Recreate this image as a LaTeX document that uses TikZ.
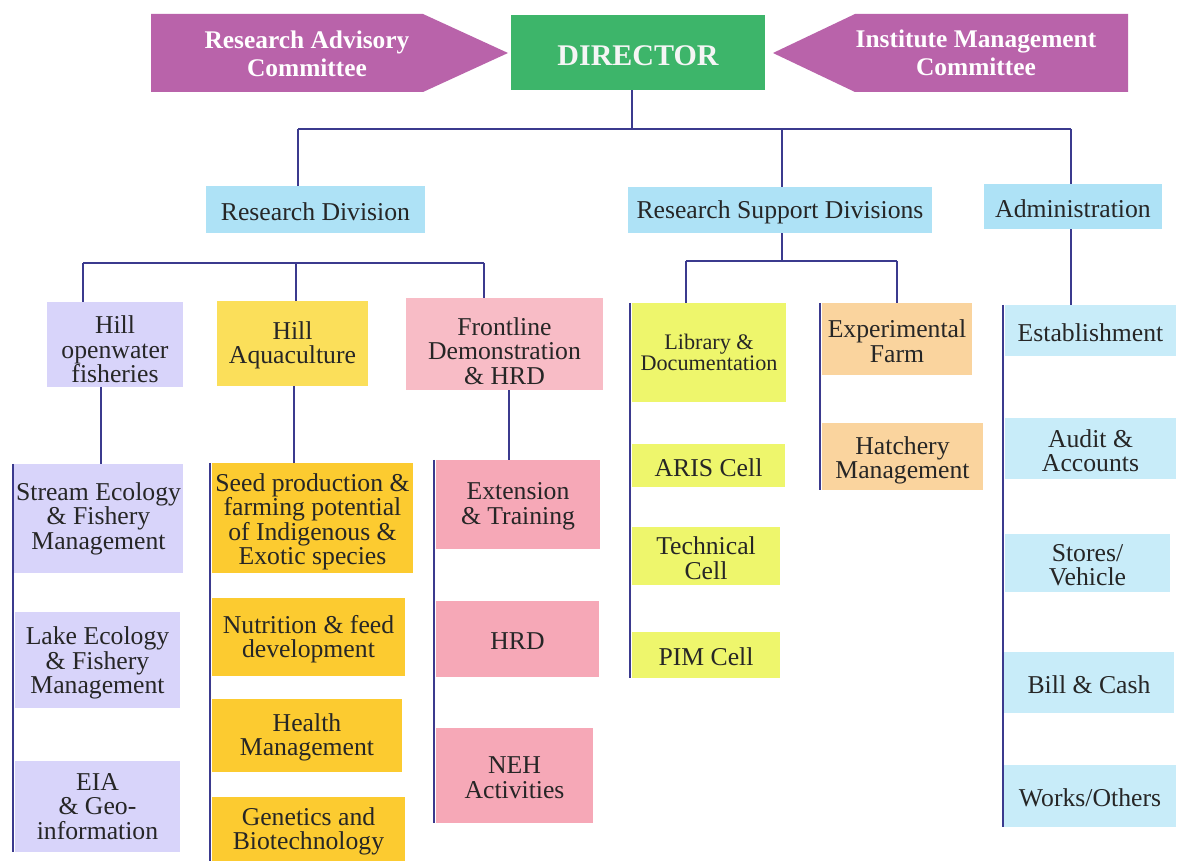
\documentclass[tikz,border=0pt]{standalone}
\usepackage{fontspec}
\setmainfont{Liberation Serif}
\definecolor{lav}{HTML}{D8D4FA}
\definecolor{hayel}{HTML}{FBDF5A}
\definecolor{aqyel}{HTML}{FCCB30}
\definecolor{frpink}{HTML}{F8BCC6}
\definecolor{dkpink}{HTML}{F6A8B7}
\definecolor{limey}{HTML}{EEF66C}
\definecolor{peach}{HTML}{FAD49E}
\definecolor{sky}{HTML}{AEE2F6}
\definecolor{skylt}{HTML}{C8ECF9}
\definecolor{comm}{HTML}{B963AA}
\definecolor{dirgreen}{HTML}{3DB56A}
\definecolor{wire}{HTML}{3B3A8E}
% box given by its corners (x1,y1)-(x2,y2), its text set a little low:
% [extra drop], name, x1, y1, x2, y2, fill, text
\newcommand\orgbox[8][0]{%
  \node[boxnode, fill=#7, minimum width={(#5-#3)*1pt}, minimum height={(#6-#4)*1pt},
    label={[orgtext, yshift={-(2+#1)*1pt}]center:{#8}}]
    (#2) at ({(#3+#5)/2},{(#4+#6)/2}) {};}
\begin{document}
\begin{tikzpicture}[x=1pt,y=-1pt,
  boxnode/.style={inner sep=0pt, draw=none},
  orgtext/.style={inner sep=0pt, align=center, text=black!85,
    font=\fontsize{25.7}{24.5}\selectfont},
  commtext/.style={inner sep=0pt, align=center, text=white,
    font=\bfseries\fontsize{25.4}{28.5}\selectfont},
  wireline/.style={draw=wire, line width=2pt}]
\path[use as bounding box, fill=white] (0,0) rectangle (1179,861);

% committees and director
\fill[comm] (151,14) -- (423,14) -- (508,53) -- (423,92) -- (151,92) -- cycle;
\node[commtext] (rac) at (307,54) {Research Advisory\\Committee};
\fill[comm] (1128,14) -- (855,14) -- (773,53) -- (855,92) -- (1128,92) -- cycle;
\node[commtext] (imc) at (976,53) {Institute Management\\Committee};
\node[boxnode, fill=dirgreen, minimum width=254pt, minimum height=75pt,
  label={[inner sep=0pt, text=white!96!black, yshift=-3pt,
    font=\bfseries\fontsize{30}{32}\selectfont]center:DIRECTOR}] (dir) at (638,52.5) {};

% divisions
\orgbox{rd}{206}{186}{425}{233}{sky}{Research Division}
\orgbox{rsd}{628}{187}{932}{233}{sky}{Research Support Divisions}
\orgbox{adm}{984}{184}{1162}{229}{sky}{Administration}

% research division
\orgbox[3]{hof}{47}{302}{183}{387}{lav}{Hill\\openwater\\fisheries}
\orgbox{ha}{217}{301}{368}{386}{hayel}{Hill\\Aquaculture}
\orgbox[5]{fd}{406}{298}{603}{390}{frpink}{Frontline\\Demonstration\\\& HRD}

\orgbox[-2]{sef}{14}{464}{183}{573}{lav}{Stream Ecology\\\& Fishery\\Management}
\orgbox[1]{lef}{15}{612}{180}{708}{lav}{Lake Ecology\\\& Fishery\\Management}
\orgbox[-2]{eia}{15}{761}{180}{852}{lav}{EIA\\\& Geo-\\information}

\orgbox[2]{seed}{212}{463}{413}{573}{aqyel}{Seed production \&\\farming potential\\of Indigenous \&\\Exotic species}
\orgbox{nut}{212}{598}{405}{676}{aqyel}{Nutrition \& feed\\development}
\orgbox{hm}{212}{699}{402}{772}{aqyel}{Health\\Management}
\orgbox{gen}{212}{797}{405}{862}{aqyel}{Genetics and\\Biotechnology}

\orgbox{ext}{436}{460}{600}{549}{dkpink}{Extension\\\& Training}
\orgbox{hrd}{436}{601}{599}{677}{dkpink}{HRD}
\orgbox{neh}{436}{728}{593}{823}{dkpink}{NEH\\Activities}

% research support divisions
\node[boxnode, fill=limey, minimum width=154pt, minimum height=99pt,
  label={[orgtext, font=\fontsize{22.2}{21}\selectfont]center:{Library \&\\Documentation}}]
  (lib) at (709,352.5) {};
\orgbox{aris}{632}{444}{785}{487}{limey}{ARIS Cell}
\orgbox{tech}{632}{527}{780}{585}{limey}{Technical\\Cell}
\orgbox{pim}{632}{632}{780}{678}{limey}{PIM Cell}

\orgbox{ef}{822}{303}{972}{375}{peach}{Experimental\\Farm}
\orgbox[2]{hat}{822}{423}{983}{490}{peach}{Hatchery\\Management}

% administration
\orgbox{est}{1005}{305}{1176}{356}{skylt}{Establishment}
\orgbox{aud}{1005}{418}{1176}{479}{skylt}{Audit \&\\Accounts}
\orgbox{sto}{1005}{534}{1170}{592}{skylt}{Stores/\\Vehicle}
\orgbox{bil}{1004}{652}{1174}{713}{skylt}{Bill \& Cash}
\orgbox{wor}{1004}{765}{1176}{827}{skylt}{Works/Others}

% top bus
\coordinate (j0) at (632,129);
\coordinate (j1) at (298,129);
\coordinate (j2) at (782,129);
\coordinate (j3) at (1071,129);
\draw[wireline] (dir.south -| j0) -- (j0);
\draw[wireline] (j1) -- (j3);
\draw[wireline] (j1) -- (j1 |- rd.north);
\draw[wireline] (j2) -- (j2 |- rsd.north);
\draw[wireline] (j3) -- (j3 |- adm.north);

% research division bus
\coordinate (r1) at (83,263);
\coordinate (r2) at (296,263);
\coordinate (r3) at (484,263);
\draw[wireline] (r1) -- (r3);
\draw[wireline] (r1) -- (r1 |- hof.north);
\draw[wireline] (r2) -- (r2 |- ha.north);
\draw[wireline] (r3) -- (r3 |- fd.north);

% research support bus
\coordinate (s0) at (782,261);
\coordinate (s1) at (686,261);
\coordinate (s2) at (897,261);
\draw[wireline] (rsd.south -| s0) -- (s0);
\draw[wireline] (s1) -- (s2);
\draw[wireline] (s1) -- (s1 |- lib.north);
\draw[wireline] (s2) -- (s2 |- ef.north);

% administration drop
\draw[wireline] ([xshift=-2pt]adm.south) -- ([xshift=-2pt]adm.south |- est.north);

% drops to the unit columns
\draw[wireline] ([xshift=-14pt]hof.south) -- ([xshift=-14pt]hof.south |- sef.north);
\draw[wireline] ([xshift=1.5pt]ha.south) -- ([xshift=1.5pt]ha.south |- seed.north);
\draw[wireline] ([xshift=4.5pt]fd.south) -- ([xshift=4.5pt]fd.south |- ext.north);

% column spines
\draw[wireline] ([xshift=-1pt]sef.north west) -- ([xshift=-1pt]sef.north west |- eia.south);
\draw[wireline] ([xshift=-1.5pt]seed.north west) -- ([xshift=-1.5pt]seed.north west |- gen.south);
\draw[wireline] ([xshift=-1.5pt]ext.north west) -- ([xshift=-1.5pt]ext.north west |- neh.south);
\draw[wireline] ([xshift=-1.5pt]lib.north west) -- ([xshift=-1.5pt]lib.north west |- pim.south);
\draw[wireline] ([xshift=-1.5pt]ef.north west) -- ([xshift=-1.5pt]ef.north west |- hat.south);
\draw[wireline] ([xshift=-2pt]est.north west) -- ([xshift=-2pt]est.north west |- wor.south);
\end{tikzpicture}
\end{document}
